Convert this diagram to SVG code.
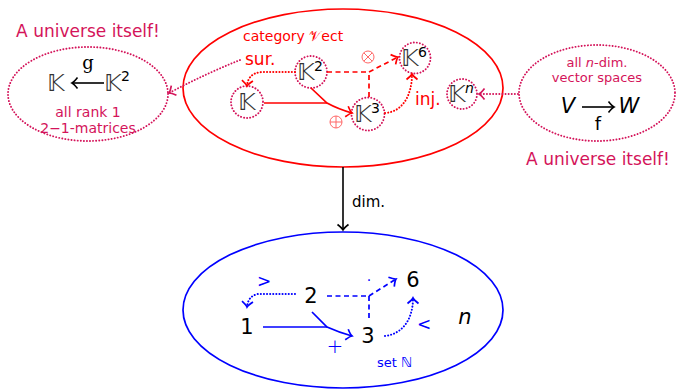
<svg xmlns="http://www.w3.org/2000/svg" width="678" height="390" viewBox="0 0 678 390">
<style>
.sans{font-family:"DejaVu Sans","Liberation Sans",sans-serif}
.bb{font-family:"DejaVu Sans","Noto Sans",sans-serif;fill:#333}
.crim{fill:#d4145a}
.red{fill:#ff0000}
.blue{fill:#0000ff}
.dotc{fill:none;stroke:#d4145a;stroke-width:1.9;stroke-dasharray:0.1 3;stroke-linecap:round}
.redl{fill:none;stroke:#ff0000;stroke-width:1.7}
.blul{fill:none;stroke:#0000ff;stroke-width:1.7}
.dash{stroke-dasharray:5 3.5}
.dot{stroke-dasharray:0.1 3;stroke-linecap:round;stroke-width:2}
</style>
<defs>
<marker id="ar" markerWidth="14" markerHeight="14" refX="0" refY="0" viewBox="-7 -7 14 14" orient="auto" markerUnits="userSpaceOnUse"><path d="M-5.5,-5.5 Q-2,-1 0,0 Q-2,1 -5.5,5.5" fill="none" stroke="#ff0000" stroke-width="1.7"/></marker>
<marker id="ab" markerWidth="14" markerHeight="14" refX="0" refY="0" viewBox="-7 -7 14 14" orient="auto" markerUnits="userSpaceOnUse"><path d="M-5.5,-5.5 Q-2,-1 0,0 Q-2,1 -5.5,5.5" fill="none" stroke="#0000ff" stroke-width="1.7"/></marker>
<marker id="ac" markerWidth="14" markerHeight="14" refX="0" refY="0" viewBox="-7 -7 14 14" orient="auto" markerUnits="userSpaceOnUse"><path d="M-5.5,-5.5 Q-2,-1 0,0 Q-2,1 -5.5,5.5" fill="none" stroke="#d4145a" stroke-width="1.7"/></marker>
<marker id="ak" markerWidth="14" markerHeight="14" refX="0" refY="0" viewBox="-7 -7 14 14" orient="auto" markerUnits="userSpaceOnUse"><path d="M-5.5,-5.5 Q-2,-1 0,0 Q-2,1 -5.5,5.5" fill="none" stroke="#000" stroke-width="1.6"/></marker>
</defs>

<g id="vect">
<ellipse cx="343" cy="88" rx="160" ry="79" class="redl"/>
<text x="243" y="41" class="sans red" font-size="14">category <tspan font-family="DejaVu Sans,sans-serif">𝒱</tspan>ect</text>
</g>
<g id="setN">
<ellipse cx="343" cy="310" rx="160" ry="78" class="blul"/>
<text x="377" y="367" class="sans blue" font-size="13">set <tspan font-family="DejaVu Sans,sans-serif" font-size="14">ℕ</tspan></text>
</g>
<g id="left-universe">
<ellipse cx="88" cy="94" rx="80" ry="47" class="dotc"/>
<text x="88" y="37" text-anchor="middle" class="sans crim" font-size="17">A universe itself!</text>
<text x="56" y="91" text-anchor="middle" class="bb" font-size="23">𝕂</text>
<line x1="104" y1="83" x2="72" y2="83" stroke="#000" stroke-width="1.6" marker-end="url(#ak)"/>
<text x="88" y="69" text-anchor="middle" font-family="DejaVu Serif,serif" font-size="18" fill="#000">g</text>
<text x="113" y="91" text-anchor="middle" class="bb" font-size="23">𝕂</text>
<text x="121" y="81" class="sans" font-size="14" fill="#000">2</text>
<text x="88" y="117" text-anchor="middle" class="sans crim" font-size="14">all rank 1</text>
<text x="88" y="133" text-anchor="middle" class="sans crim" font-size="14">2−1-matrices</text>
</g>
<g id="right-universe">
<ellipse cx="597" cy="93" rx="78" ry="48" class="dotc"/>
<text x="597" y="67" text-anchor="middle" class="sans crim" font-size="13">all <tspan font-style="italic">n</tspan>-dim.</text>
<text x="597" y="82" text-anchor="middle" class="sans crim" font-size="13">vector spaces</text>
<text x="568" y="113" text-anchor="middle" class="sans" font-size="21" font-style="italic" fill="#000">V</text>
<line x1="582" y1="107" x2="614" y2="107" stroke="#000" stroke-width="1.6" marker-end="url(#ak)"/>
<text x="598" y="130" text-anchor="middle" class="sans" font-size="18" fill="#000">f</text>
<text x="629" y="113" text-anchor="middle" class="sans" font-size="21" font-style="italic" fill="#000">W</text>
<text x="598" y="165" text-anchor="middle" class="sans crim" font-size="17">A universe itself!</text>
</g>

<g id="K1">
<circle cx="247" cy="102" r="16" class="dotc"/>
<text x="247" y="110" text-anchor="middle" class="bb" font-size="23">𝕂</text>
</g>
<g id="K2">
<circle cx="311" cy="72" r="16" class="dotc"/>
<text x="306" y="80" text-anchor="middle" class="bb" font-size="23">𝕂</text>
<text x="314" y="71" class="sans" font-size="14" fill="#000">2</text>
</g>
<g id="K3">
<circle cx="368" cy="114" r="16.5" class="dotc"/>
<text x="363" y="122" text-anchor="middle" class="bb" font-size="23">𝕂</text>
<text x="371" y="113" class="sans" font-size="14" fill="#000">3</text>
</g>
<g id="K6">
<circle cx="415" cy="58" r="15.5" class="dotc"/>
<text x="410" y="66" text-anchor="middle" class="bb" font-size="23">𝕂</text>
<text x="418" y="57" class="sans" font-size="14" fill="#000">6</text>
</g>
<g id="Kn">
<circle cx="462" cy="94" r="15" class="dotc"/>
<text x="457" y="102" text-anchor="middle" class="bb" font-size="23">𝕂</text>
<text x="465" y="93" class="sans" font-size="14" font-style="italic" fill="#000">n</text>
</g>

<g id="n1"><text x="247" y="334" text-anchor="middle" class="sans" font-size="21" fill="#000">1</text></g>
<g id="n2"><text x="311" y="303" text-anchor="middle" class="sans" font-size="21" fill="#000">2</text></g>
<g id="n3"><text x="368" y="343" text-anchor="middle" class="sans" font-size="21" fill="#000">3</text></g>
<g id="n6"><text x="413" y="287" text-anchor="middle" class="sans" font-size="21" fill="#000">6</text></g>
<g id="nn"><text x="465" y="324" text-anchor="middle" class="sans" font-size="21" font-style="italic" fill="#000">n</text></g>

<g id="connectors">
<path d="M295,72 L262,72 Q248,73 247,86" class="redl dot" marker-end="url(#ar)"/>
<path d="M264,103 L327,103" class="redl"/>
<path d="M311,88 L327,103 Q338,109 352,113" class="redl" marker-end="url(#ar)"/>
<path d="M327,72 L369,72" class="redl dash"/>
<path d="M369,97 L369,72" class="redl dash"/>
<path d="M369,72 L398,57" class="redl dash" marker-end="url(#ar)"/>
<path d="M385,113 C402,112 412,96 412,74" class="redl dot" marker-end="url(#ar)"/>
<text x="245" y="65" class="sans red" font-size="17">sur.</text>
<text x="415" y="105" class="sans red" font-size="17">inj.</text>
<g fill="none" stroke="#ff6666" stroke-width="1">
<circle cx="368" cy="57" r="6"/><path d="M363.8,52.8 L372.2,61.2 M372.2,52.8 L363.8,61.2"/>
<circle cx="336" cy="122" r="6"/><path d="M330,122 L342,122 M336,116 L336,128"/>
</g>
<path d="M240,60 Q205,74 169,93" class="dotc" marker-end="url(#ac)"/>
<path d="M518,94 L479,94" class="dotc" marker-end="url(#ac)"/>
<line x1="343" y1="167" x2="343" y2="230" stroke="#000" stroke-width="1.6" marker-end="url(#ak)"/>
<text x="352" y="207" class="sans" font-size="15" fill="#000">dim.</text>
<path d="M295,294 L258,294 Q248,296 247,307" class="blul dot" marker-end="url(#ab)"/>
<path d="M263,327 L327,327" class="blul"/>
<path d="M312,312 L327,327 Q338,332 352,336" class="blul" marker-end="url(#ab)"/>
<path d="M327,296 L369,296" class="blul dash"/>
<path d="M369,318 L369,296" class="blul dash"/>
<path d="M369,296 L396,279" class="blul dash" marker-end="url(#ab)"/>
<path d="M385,336 C402,334 413,320 413,298" class="blul dot" marker-end="url(#ab)"/>
<text x="264" y="287" text-anchor="middle" class="sans blue" font-size="17">&gt;</text>
<text x="424" y="330" text-anchor="middle" class="sans blue" font-size="17">&lt;</text>
<text x="335" y="353" text-anchor="middle" class="sans blue" font-size="20" font-weight="200">+</text>
<text x="369" y="285" text-anchor="middle" class="sans blue" font-size="14">·</text>
</g>
</svg>
